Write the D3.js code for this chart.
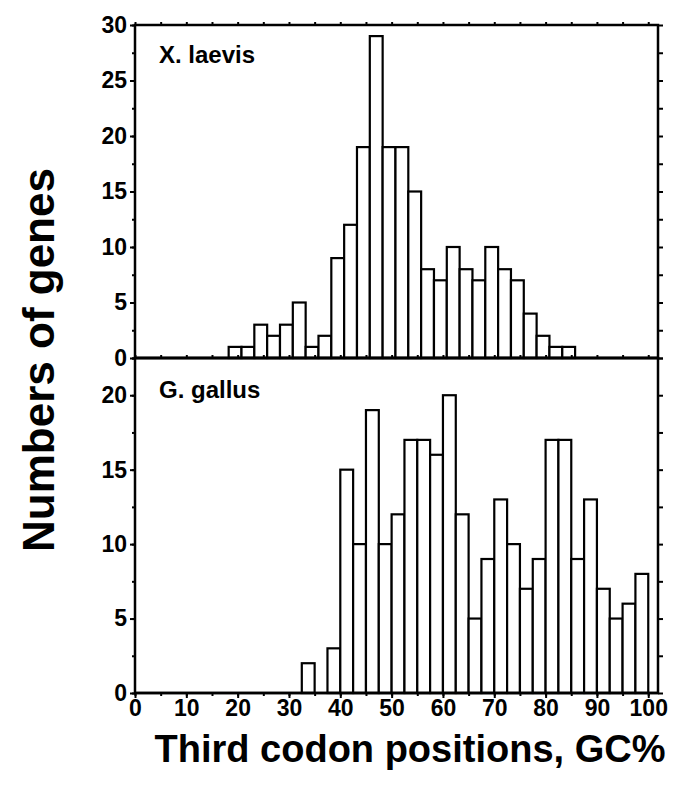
<!DOCTYPE html>
<html lang="en">
<head>
    <meta charset="UTF-8">
    <title>Third codon positions, GC%</title>
    <script src="https://d3js.org/d3.v7.min.js"></script>
    <style>
        body { margin: 0; background: #fff; }
        text { font-family: "Liberation Sans", Arial, sans-serif; font-weight: bold; fill: #000; }
        .tick text { font-size: 23px; }
        .bar { fill: #fff; stroke: #000; stroke-width: 2.2px; }
        .frame { fill: none; stroke: #000; stroke-width: 2.5px; }
        .tick line { stroke: #000; stroke-width: 2px; }
    </style>
</head>
<body>
<svg width="693" height="789"></svg>
<script>
    // histogram data, bins of 2.5 GC%
    const binWidth = 2.5;
    const laevisStart = 18.25;
    const laevisCounts = [1, 1, 3, 2, 3, 5, 1, 2, 9, 12, 19, 29, 19, 19, 15, 8, 7, 10, 8, 7, 10, 8, 7, 4, 2, 1, 1];
    const gallusStart = 32.5;
    const gallusCounts = [2, 0, 3, 15, 10, 19, 10, 12, 17, 17, 16, 20, 12, 5, 9, 13, 10, 7, 9, 17, 17, 9, 13, 7, 5, 6, 8];

    const xTicks = [0, 10, 20, 30, 40, 50, 60, 70, 80, 90, 100];
    const topYTicks = [0, 5, 10, 15, 20, 25, 30];
    const botYTicks = [0, 5, 10, 15, 20];

    const svg = d3.select("svg");

    const x = d3.scaleLinear().domain([0, 101.9]).range([135, 658]);
    const yTop = d3.scaleLinear().domain([0, 30]).range([358, 25]);
    const yBot = d3.scaleLinear().domain([0, 22.5]).range([693, 358]);

    function panel(y, start, counts, label, majors, maxV, labelY) {
        const bins = counts.map((c, i) => ({ x0: start + i * binWidth, x1: start + (i + 1) * binWidth, c }));

        svg.append("g").selectAll("rect")
            .data(bins.filter(d => d.c > 0))
            .join("rect")
            .attr("class", "bar")
            .attr("x", d => x(d.x0))
            .attr("width", d => x(d.x1) - x(d.x0))
            .attr("y", d => y(d.c))
            .attr("height", d => y(0) - y(d.c));

        // baseline where bins are empty
        svg.append("line")
            .attr("x1", x(0)).attr("x2", x.range()[1])
            .attr("y1", y(0)).attr("y2", y(0))
            .attr("stroke", "#000").attr("stroke-width", 2.5);

        const minors = d3.range(0, maxV + 0.01, 2.5);

        // left axis, majors with labels
        svg.append("g")
            .attr("transform", `translate(${x(0)},0)`)
            .call(d3.axisLeft(y).tickValues(majors).tickSize(5).tickPadding(3).tickFormat(d3.format("d")))
            .call(g => g.select(".domain").remove());
        svg.append("g")
            .attr("transform", `translate(${x(0)},0)`)
            .call(d3.axisLeft(y).tickValues(minors).tickSize(3).tickFormat(""))
            .call(g => g.select(".domain").remove());

        // right axis ticks
        svg.append("g")
            .attr("transform", `translate(${x.range()[1]},0)`)
            .call(d3.axisRight(y).tickValues(minors).tickSize(5).tickFormat(""))
            .call(g => g.select(".domain").remove());

        svg.append("rect")
            .attr("class", "frame")
            .attr("x", x(0)).attr("y", y.range()[1])
            .attr("width", x.range()[1] - x(0))
            .attr("height", y.range()[0] - y.range()[1]);

        svg.append("text")
            .attr("x", x(0) + 24)
            .attr("y", labelY)
            .attr("font-size", 24)
            .text(label);
    }

    panel(yTop, laevisStart, laevisCounts, "X. laevis", topYTicks, 30, 63);
    panel(yBot, gallusStart, gallusCounts, "G. gallus", botYTicks, 22.5, 398);

    const fives = d3.range(0, 101, 5);

    // ticks along top edge and shared line
    [yTop.range()[1], yTop(0)].forEach(yy => {
        svg.append("g")
            .attr("transform", `translate(0,${yy})`)
            .call(d3.axisTop(x).tickValues(fives).tickSize(3).tickFormat(""))
            .call(g => g.select(".domain").remove());
    });

    // bottom x axis
    svg.append("g")
        .attr("transform", `translate(0,${yBot(0)})`)
        .call(d3.axisBottom(x).tickValues(fives).tickSize(3).tickFormat(""))
        .call(g => g.select(".domain").remove());
    svg.append("g")
        .attr("transform", `translate(0,${yBot(0)})`)
        .call(d3.axisBottom(x).tickValues(xTicks).tickSize(5).tickPadding(2).tickFormat(d3.format("d")))
        .call(g => g.select(".domain").remove());

    // axis titles
    svg.append("text")
        .attr("x", 410).attr("y", 762)
        .attr("text-anchor", "middle")
        .attr("font-size", 38)
        .text("Third codon positions, GC%");

    svg.append("text")
        .attr("transform", "translate(54,360) rotate(-90)")
        .attr("text-anchor", "middle")
        .attr("font-size", 44)
        .text("Numbers of genes");
</script>
</body>
</html>
